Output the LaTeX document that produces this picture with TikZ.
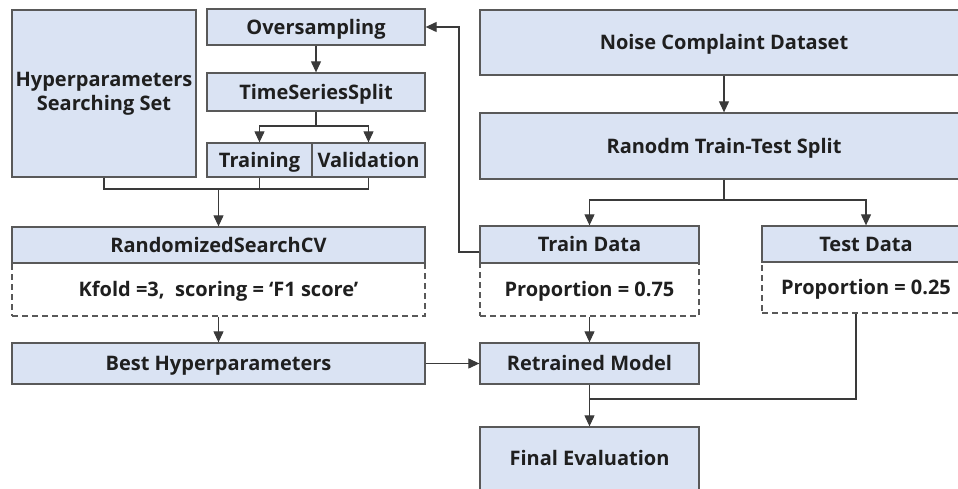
\documentclass[tikz,border=0pt]{standalone}
\usepackage{fontspec}
\setmainfont{Open Sans}
\usetikzlibrary{arrows.meta,calc}
\definecolor{boxfill}{HTML}{DAE3F3}
\definecolor{boxline}{HTML}{595959}
\definecolor{wire}{HTML}{3A3A3A}
\tikzset{
  base/.style={line width=1.3pt, inner sep=0pt,
    font=\fontsize{20}{24}\selectfont\bfseries, text=black!88, align=center},
  one/.style={text height=14.4pt, text depth=0pt},
  blk/.style={base, one, draw=boxline, fill=boxfill},
  blkm/.style={base, draw=boxline, fill=boxfill},
  dsh/.style={base, one, draw=boxline, fill=white, dash pattern=on 6pt off 4pt},
  wireln/.style={draw=wire, line width=1.1pt},
  arr/.style={wireln, -{Triangle[length=11pt,width=10pt]}},
}
\begin{document}
\begin{tikzpicture}[x=1pt,y=-1pt]
\useasboundingbox (0,0) rectangle (958,489);
\clip (0,0) rectangle (958,489);

% left column: hyperparameter search
\node[blkm, minimum width=184pt, minimum height=167pt] (hyper) at (104,93.5)
  {Hyperparameters\\Searching Set};
\node[blk, minimum width=218pt, minimum height=36pt] (over) at (316,27) {Oversampling};
\node[blk, minimum width=218pt, minimum height=38pt] (tss) at (316,92) {TimeSeriesSplit};
\node[blk, minimum width=105pt, minimum height=34pt] (train) at (259.5,160) {Training};
\node[blk, minimum width=113pt, minimum height=34pt] (valid) at (368.5,160) {Validation};
\node[blk, minimum width=413pt, minimum height=36pt] (rscv) at (218.5,245) {RandomizedSearchCV};
\node[dsh, minimum width=413pt, minimum height=53pt] (kfold) at (218.5,289.5)
  {Kfold =3,\ \ scoring = ‘F1 score’};
\node[blk, minimum width=413pt, minimum height=41pt] (best) at (218.5,363.5) {Best Hyperparameters};

% right column: data split and evaluation
\node[blk, minimum width=488pt, minimum height=65pt] (noise) at (724,42.5) {Noise Complaint Dataset};
\node[blk, minimum width=488pt, minimum height=66pt] (split) at (724,146) {Ranodm Train-Test Split};
\node[blk, minimum width=219pt, minimum height=37pt] (traind) at (589.5,244.5) {Train Data};
\node[dsh, minimum width=219pt, minimum height=53pt] (p75) at (589.5,289.5) {Proportion = 0.75};
\node[blk, minimum width=208pt, minimum height=36pt] (testd) at (866,244) {Test Data};
\node[dsh, minimum width=208pt, minimum height=51pt] (p25) at (866,287.5) {Proportion = 0.25};
\node[blk, minimum width=219pt, minimum height=41pt] (retr) at (589.5,363.5) {Retrained Model};
\node[blk, minimum width=219pt, minimum height=63pt] (final) at (589.5,458.5) {Final Evaluation};

% solid lower edge of each header box, drawn over the dashed top edge below it
\draw[boxline, line width=1.3pt] (rscv.south west) -- (rscv.south east);
\draw[boxline, line width=1.3pt] (traind.south west) -- (traind.south east);
\draw[boxline, line width=1.3pt] (testd.south west) -- (testd.south east);

% connectors, left column
\draw[arr] (over) -- (tss);
\coordinate (tssfork) at (316,126);
\draw[wireln] (tss.south) -- (tssfork);
\draw[arr] (tssfork) -| (train.north);
\draw[arr] (tssfork) -| (valid.north);
\coordinate (merge) at (218.5,189);
\draw[wireln] (hyper.south) |- (merge);
\draw[wireln] (valid.south) |- (merge);
\draw[wireln] (train.south) -- (train.south |- merge);
\draw[arr] (merge) -- (rscv.north);
\draw[arr] (kfold) -- (best);
\draw[arr] (best) -- (retr);

% connectors, right column
\draw[arr] (noise) -- (split);
\coordinate (splitfork) at (724,200);
\draw[wireln] (split.south) -- (splitfork);
\draw[arr] (splitfork) -| (traind.north);
\draw[arr] (splitfork) -| (testd.north);
\coordinate (back) at (459,27);
\draw[arr] ([yshift=-7.5pt]traind.west) -| (back) -- (over.east);
\draw[arr] (p75) -- (retr);
\draw[arr] (retr) -- (final);
\coordinate (testjoin) at (856,399);
\draw[wireln] (p25.south -| testjoin) -- (testjoin) -- (testjoin -| retr.south);
\end{tikzpicture}
\end{document}
